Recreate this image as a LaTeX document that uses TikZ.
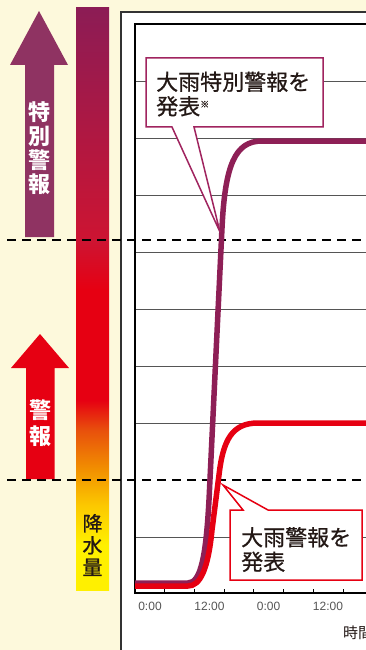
\documentclass[tikz,border=0pt]{standalone}
\usepackage{fontspec}
\setmainfont{Liberation Sans}
\newfontfamily\jp{Noto Sans CJK JP}
\newfontfamily\jpm[FakeBold=0.7]{Noto Sans CJK JP}
\definecolor{bg}{RGB}{253,249,220}
\definecolor{purp}{RGB}{142,31,86}
\definecolor{barpurp}{RGB}{140,28,85}
\definecolor{arrowpurp}{RGB}{143,51,98}
\definecolor{redA}{RGB}{230,0,18}
\definecolor{crim}{RGB}{205,20,50}
\definecolor{orred}{RGB}{232,80,12}
\definecolor{orng}{RGB}{242,145,0}
\definecolor{ylo}{RGB}{252,200,0}
\definecolor{ylw}{RGB}{255,240,0}
\definecolor{gridc}{RGB}{85,85,85}
\definecolor{txt}{RGB}{35,24,21}
\definecolor{calpurp}{RGB}{160,36,95}
\pgfdeclareverticalshading{rainbar}{100bp}{color(0bp)=(ylw); color(25bp)=(ylw); color(28.9bp)=(ylw); color(32.3bp)=(ylo); color(35.3bp)=(orng); color(38.75bp)=(orred); color(41.3bp)=(redA); color(50.8bp)=(redA); color(55bp)=(crim); color(75bp)=(barpurp); color(100bp)=(barpurp)}
\begin{document}
\begin{tikzpicture}[x=1pt,y=-1pt,
  gridline/.style={draw=gridc,line width=0.8pt},
  axisline/.style={draw=black,line width=1.2pt},
  tickmark/.style={draw=black,line width=0.8pt},
  ticklabel/.style={font=\fontsize{12}{12}\selectfont,text=gridc,inner sep=0pt},
  thresh/.style={draw=black,line width=2.8pt,dash pattern=on 9pt off 6pt},
  curvepurp/.style={draw=purp,line width=5.5pt,line join=round},
  curvered/.style={draw=redA,line width=5.5pt,line join=round},
  arrowtext/.style={text=white,font=\jp\bfseries\fontsize{22}{24}\selectfont,align=center,inner sep=0pt},
  calltext/.style={text=txt,font=\jpm\fontsize{22}{24.5}\selectfont,align=left,inner sep=0pt,anchor=west}
]
\useasboundingbox (0,0) rectangle (366,650);
\fill[bg] (0,0) rectangle (366,650);
% outer white panel
\fill[white] (121,12) rectangle (372,655);
\draw[draw=black!80,line width=1.6pt] (121,655) -- (121,12) -- (372,12);
% grid
\foreach \yy in {81,138,195,252,309,366,423,537}{
  \draw[gridline] (135,\yy) -- (372,\yy);
}
% frame
\draw[axisline] (372,24) -- (135,24) -- (135,593) -- (372,593);
\foreach \xx in {164.7,194.4,224.1,253.8,283.5,313.2,342.9}{
  \draw[tickmark] (\xx,589) -- (\xx,593);
}
\node[ticklabel] (t1) at (150,606) {0:00};
\node[ticklabel] (t2) at (209.5,606) {12:00};
\node[ticklabel] (t3) at (268.6,606) {0:00};
\node[ticklabel] (t4) at (328,606) {12:00};
\node[text=txt,font=\jp\fontsize{15}{15}\selectfont,anchor=west,inner sep=0pt] (xl) at (343,633) {時間};
% rainfall bar
\shade[shading=rainbar] (76,8) rectangle (109,590);
\node[text=txt,font=\jpm\fontsize{20}{22}\selectfont,align=center,inner sep=0pt] (rain) at (92.5,545) {降\\水\\量};
% arrows
\fill[arrowpurp] (39,11) -- (68,65) -- (54,65) -- (54,237) -- (25,237) -- (25,65) -- (10,65) -- cycle;
\node[arrowtext] (tokubetsu) at (39.5,148) {特\\別\\警\\報};
\fill[redA] (40,334) -- (69,368) -- (54.5,368) -- (54.5,479) -- (26,479) -- (26,368) -- (11,368) -- cycle;
\node[arrowtext,font=\jp\bfseries\fontsize{22}{26}\selectfont] (keiho) at (40,423) {警\\報};
% threshold lines
\draw[thresh] (7,240) -- (372,240);
\draw[thresh] (7,480) -- (372,480);
% curves
\draw[curvepurp] (135,583) -- (188,583) .. controls (201,583) and (206,555) .. (209,500) -- (222,228) .. controls (225,165) and (235,141) .. (262,141) -- (372,141);
\draw[curvered] (135,586) -- (188,586) .. controls (200,586) and (208,570) .. (212,530) -- (219,475) .. controls (223,440) and (232,423) .. (258,423) -- (372,423);
% callouts
\filldraw[fill=white,draw=calpurp,line width=1.5pt,line join=miter] (146,58) -- (323,58) -- (323,127) -- (194,127) -- (220,232) -- (172,127) -- (146,127) -- cycle;
\node[calltext] (c1) at (156,94) {大雨特別警報を\\発表\raisebox{7pt}{\fontsize{9}{9}\selectfont ※}};
\filldraw[fill=white,draw=redA,line width=1.5pt,line join=miter] (230,510) -- (243,510) -- (223,485) -- (268,510) -- (362,510) -- (362,580) -- (230,580) -- cycle;
\node[calltext] (c2) at (241,549.5) {大雨警報を\\発表};
\end{tikzpicture}
\end{document}
